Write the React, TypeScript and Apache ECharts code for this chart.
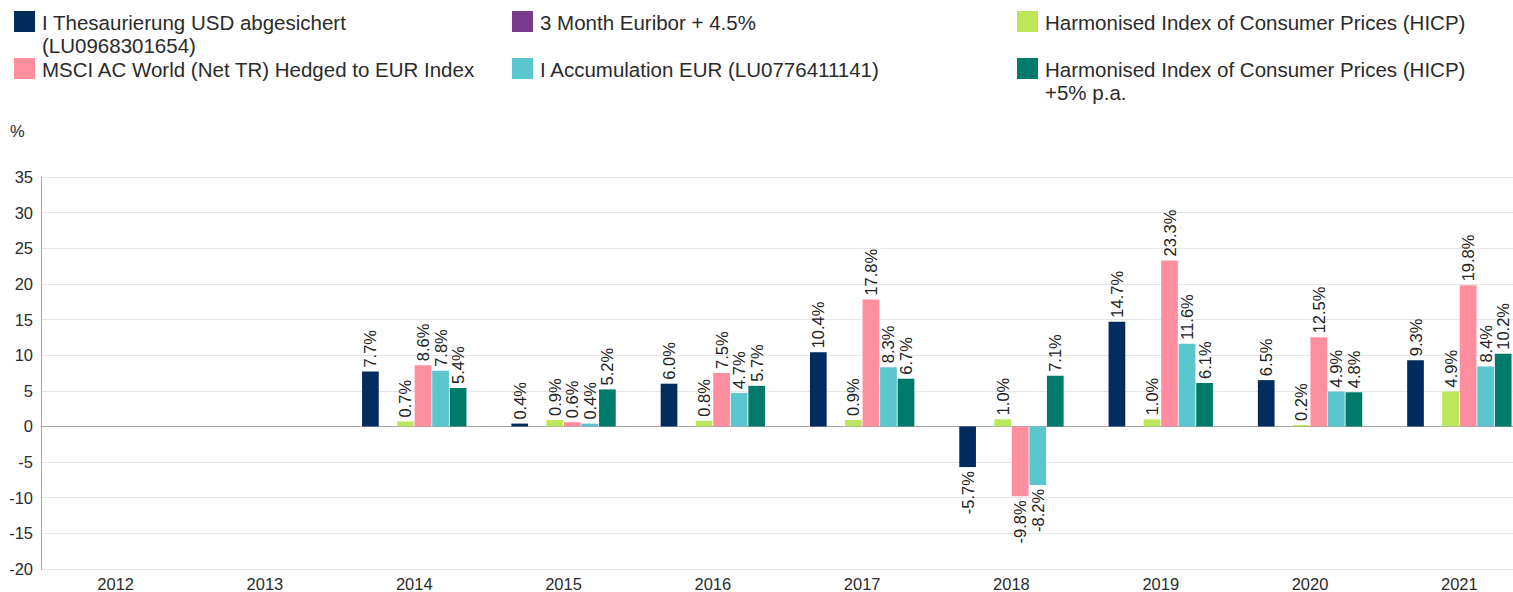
import React, { useEffect, useRef } from "react";
import * as echarts from "echarts";

const categories = ["2012", "2013", "2014", "2015", "2016", "2017", "2018", "2019", "2020", "2021"];

const seriesNames = [
  "I Thesaurierung USD abgesichert\n(LU0968301654)",
  "3 Month Euribor + 4.5%",
  "Harmonised Index of Consumer Prices (HICP)",
  "MSCI AC World (Net TR) Hedged to EUR Index",
  "I Accumulation EUR (LU0776411141)",
  "Harmonised Index of Consumer Prices (HICP)\n+5% p.a.",
];

const thesaurierungUsd: (number | null)[] = [null, null, 7.7, 0.4, 6.0, 10.4, -5.7, 14.7, 6.5, 9.3];
const euribor: (number | null)[] = [null, null, null, null, null, null, null, null, null, null];
const hicp: (number | null)[] = [null, null, 0.7, 0.9, 0.8, 0.9, 1.0, 1.0, 0.2, 4.9];
const msciAcwi: (number | null)[] = [null, null, 8.6, 0.6, 7.5, 17.8, -9.8, 23.3, 12.5, 19.8];
const accumulationEur: (number | null)[] = [null, null, 7.8, 0.4, 4.7, 8.3, -8.2, 11.6, 4.9, 8.4];
const hicpPlus5: (number | null)[] = [null, null, 5.4, 5.2, 5.7, 6.7, 7.1, 6.1, 4.8, 10.2];

const seriesValues = [thesaurierungUsd, euribor, hicp, msciAcwi, accumulationEur, hicpPlus5];
const colors = ["#022b5e", "#7a3a8c", "#bde75a", "#ff8e9f", "#59c7cd", "#007b6b"];

const FONT = "'Liberation Sans', Arial, sans-serif";
const TEXT = "#2b2b2b";

export default function App() {
  const ref = useRef<HTMLDivElement>(null);
  useEffect(() => {
    if (!ref.current) return;
    const chart = echarts.init(ref.current, undefined, { renderer: "svg" });

    const legendPos = [
      [14, 11], [512, 11], [1017, 11],
      [14, 58], [512, 58], [1017, 58],
    ];
    const graphics: any[] = [];
    seriesNames.forEach((name, si) => {
      const [x, y] = legendPos[si];
      graphics.push({
        type: "rect",
        left: x,
        top: y,
        shape: { width: 21, height: 21 },
        style: { fill: colors[si] },
      });
      graphics.push({
        type: "text",
        left: x + 28,
        top: y,
        style: {
          text: name,
          font: `20.5px ${FONT}`,
          fill: TEXT,
          lineHeight: 23,
        },
      });
    });
    graphics.push({
      type: "text",
      left: 10,
      top: 122,
      style: { text: "%", font: `16.5px ${FONT}`, fill: TEXT },
    });

    const series = seriesValues.map((vals, si) => ({
      name: seriesNames[si],
      type: "bar",
      barWidth: 16.7,
      barGap: "5%",
      itemStyle: { color: colors[si] },
      data: vals.map((v) =>
        v === null
          ? null
          : {
              value: v,
              label: {
                show: true,
                position: v < 0 ? "bottom" : "top",
                align: v < 0 ? "right" : "left",
                verticalAlign: "middle",
                rotate: 90,
                distance: 4,
                formatter: (p: any) => `${Number(p.value).toFixed(1)}%`,
                fontSize: 16.5,
                fontFamily: FONT,
                color: "#222",
              },
            }
      ),
    }));

    chart.setOption({
      animation: false,
      grid: { left: 41, right: 0, top: 177, bottom: 20, containLabel: false },
      xAxis: {
        type: "category",
        data: categories,
        axisLine: { show: true, lineStyle: { color: "#a6a6a6", width: 1 } },
        axisTick: { show: false },
        axisLabel: { fontSize: 16.5, fontFamily: FONT, color: TEXT, margin: 6 },
      },
      yAxis: {
        type: "value",
        min: -20,
        max: 35,
        interval: 5,
        axisLine: { show: true, lineStyle: { color: "#a6a6a6", width: 1 } },
        axisTick: { show: false },
        splitLine: { lineStyle: { color: "#e6e6e6", width: 1 } },
        axisLabel: { fontSize: 16.5, fontFamily: FONT, color: TEXT, margin: 8 },
      },
      graphic: graphics,
      series,
    });

    return () => chart.dispose();
  }, []);

  return (
    <div
      style={{
        position: "fixed",
        left: 0,
        top: 0,
        width: 1513,
        height: 592,
        overflow: "hidden",
        background: "#fff",
      }}
    >
      <div ref={ref} style={{ position: "absolute", left: 0, top: 0, width: 1534, height: 592 }} />
    </div>
  );
}
